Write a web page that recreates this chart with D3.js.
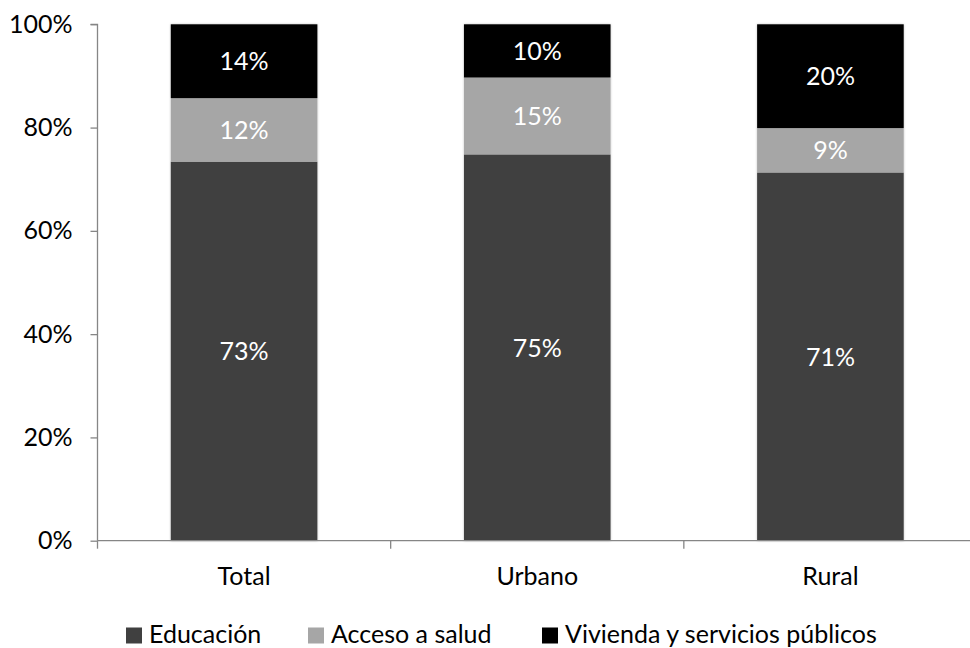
<!DOCTYPE html>
<html>
<head>
<meta charset="utf-8">
<script src="https://cdn.jsdelivr.net/npm/d3@7"></script>
<style>
  html, body { margin: 0; padding: 0; background: #fff; }
  svg { display: block; }
  text { font-family: Lato, "Open Sans", sans-serif; }
</style>
</head>
<body>
<svg id="chart" width="970" height="648"></svg>
<script>
// Distribution by area (percent of each bar)
const categories = ["Total", "Urbano", "Rural"];
const seriesNames = ["Educación", "Acceso a salud", "Vivienda y servicios públicos"];
const educacion = [73.4, 74.8, 71.3];
const accesoSalud = [12.3, 14.9, 8.6];
const vivienda = [14.3, 10.3, 20.1];
const yTicks = [0, 20, 40, 60, 80, 100];

const colors = ["#404040", "#a6a6a6", "#000000"];
const fontSize = 25;

const rows = categories.map((c, i) => ({
  cat: c,
  "Educación": educacion[i],
  "Acceso a salud": accesoSalud[i],
  "Vivienda y servicios públicos": vivienda[i]
}));

const svg = d3.select("#chart");

const x = d3.scaleBand()
  .domain(categories)
  .range([97.5, 977])
  .paddingInner(0.5)
  .paddingOuter(0.25);

const y = d3.scaleLinear()
  .domain([0, 100])
  .range([540.7, 24.3]);

const stacked = d3.stack().keys(seriesNames)(rows);

// subtle shadow around the bars
const defs = svg.append("defs");
const f = defs.append("filter").attr("id", "shadow")
  .attr("x", "-10%").attr("y", "-10%").attr("width", "120%").attr("height", "120%");
f.append("feDropShadow").attr("dx", 0).attr("dy", 0).attr("stdDeviation", 1.2)
  .attr("flood-color", "#000").attr("flood-opacity", 0.25);

const layers = svg.append("g").attr("filter", "url(#shadow)");
stacked.forEach((layer, k) => {
  layers.append("g").selectAll("rect")
    .data(layer)
    .join("rect")
    .attr("x", d => x(d.data.cat))
    .attr("width", x.bandwidth())
    .attr("y", d => y(d[1]))
    .attr("height", d => y(d[0]) - y(d[1]))
    .attr("fill", colors[k]);
});

// value labels
stacked.forEach((layer) => {
  svg.append("g").selectAll("text")
    .data(layer)
    .join("text")
    .attr("x", d => x(d.data.cat) + x.bandwidth() / 2)
    .attr("y", d => (y(d[0]) + y(d[1])) / 2)
    .attr("dy", "0.36em")
    .attr("text-anchor", "middle")
    .attr("fill", "#fff")
    .attr("font-size", fontSize)
    .text(d => Math.round(d[1] - d[0]) + "%");
});

// y axis
const yAxis = svg.append("g")
  .attr("transform", "translate(97.5,0)")
  .call(d3.axisLeft(y).tickValues(yTicks).tickSize(7).tickPadding(18).tickFormat(d => d + "%"));
yAxis.select(".domain").attr("stroke", "#868686").attr("stroke-width", 1.3).attr("d", `M-7,${y(100)}H0V${y(0)}`);
yAxis.selectAll(".tick line").attr("stroke", "#868686").attr("stroke-width", 1.3);
yAxis.selectAll(".tick text").attr("font-size", fontSize).attr("fill", "#000")
  .attr("font-family", "Lato, 'Open Sans', sans-serif");

// x axis
const xAxis = svg.append("g").attr("transform", `translate(0,${y(0)})`);
xAxis.append("line")
  .attr("x1", 97.5).attr("x2", 977)
  .attr("stroke", "#868686").attr("stroke-width", 1.3);
const step = x.step();
const boundaries = d3.range(categories.length + 1).map(i => 97.5 + i * step);
xAxis.selectAll("line.tk").data(boundaries).join("line")
  .attr("class", "tk")
  .attr("x1", d => d).attr("x2", d => d)
  .attr("y1", 0).attr("y2", 8)
  .attr("stroke", "#868686").attr("stroke-width", 1.3);
xAxis.selectAll("text").data(categories).join("text")
  .attr("x", d => x(d) + x.bandwidth() / 2)
  .attr("y", 44)
  .attr("text-anchor", "middle")
  .attr("font-size", fontSize)
  .attr("fill", "#000")
  .text(d => d);

// legend
const legendX = [126, 308, 542];
const legend = svg.append("g");
seriesNames.forEach((name, i) => {
  const g = legend.append("g").attr("transform", `translate(${legendX[i]},627.5)`);
  g.append("rect").attr("width", 16).attr("height", 16).attr("fill", colors[i]);
  g.append("text").attr("x", 23).attr("y", 15.5)
    .attr("font-size", fontSize).attr("fill", "#000").text(name);
});
</script>
</body>
</html>
